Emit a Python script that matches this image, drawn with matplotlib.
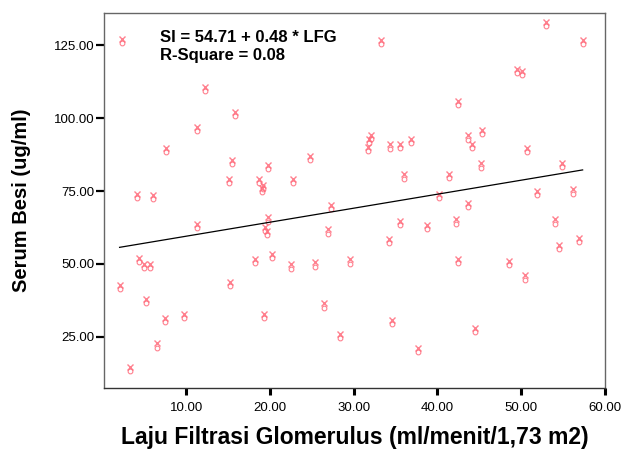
import matplotlib
matplotlib.use("Agg")
import matplotlib.pyplot as plt
import matplotlib.transforms as mtrans
import numpy as np

plt.rcParams['font.family'] = ['Liberation Sans', 'DejaVu Sans']

# Data
lfg = [2.30, 12.21, 15.87, 11.34, 7.61, 15.51, 19.76, 15.11, 18.68, 19.16,
       19.00, 4.16, 5.99, 33.29, 32.06, 31.78, 31.70, 34.36, 35.58, 36.82,
       24.83, 22.81, 36.02, 52.96, 57.33, 49.51, 50.11, 42.45, 45.35, 43.68,
       44.08, 50.70, 45.15, 54.87, 41.38, 40.19, 51.94, 56.14, 11.34, 19.80,
       19.44, 19.63, 4.36, 4.95, 5.75, 2.06, 5.19, 7.45, 9.75, 6.58,
       3.29, 18.21, 15.27, 19.24, 27.30, 26.90, 35.58, 38.72, 34.16, 20.31,
       22.57, 25.43, 29.60, 26.50, 34.56, 28.32, 37.65, 43.68, 42.26, 54.08,
       56.90, 54.48, 42.42, 48.60, 50.51, 44.51]
si = [126.4, 109.9, 101.4, 96.2, 89.0, 84.9, 83.1, 78.5, 78.5, 76.3,
      75.3, 73.3, 72.8, 126.1, 93.6, 92.1, 89.3, 90.2, 90.4, 92.2,
      86.3, 78.5, 79.9, 132.2, 126.1, 116.2, 115.5, 105.0, 95.2, 93.3,
      90.4, 89.0, 83.7, 84.0, 80.2, 73.3, 74.4, 74.8, 63.0, 65.2,
      61.9, 60.7, 51.3, 49.4, 49.4, 42.2, 37.3, 30.8, 32.0, 22.0,
      13.9, 51.1, 43.2, 32.0, 69.5, 61.1, 64.0, 62.7, 57.9, 52.8,
      49.1, 49.8, 50.8, 35.7, 30.2, 25.3, 20.4, 70.2, 64.5, 64.5,
      58.2, 55.8, 51.0, 50.2, 45.3, 27.2]

intercept = 54.71
slope = 0.48
r_square = 0.08

x_ticks = [10, 20, 30, 40, 50, 60]
x_tick_labels = ["10.00", "20.00", "30.00", "40.00", "50.00", "60.00"]
y_ticks = [25, 50, 75, 100, 125]
y_tick_labels = ["25.00", "50.00", "75.00", "100.00", "125.00"]

fig = plt.figure(figsize=(6.24, 4.49), dpi=100)
ax = fig.add_axes([104/624, 61/449, 501/624, 375/449])

x = np.array(lfg)
y = np.array(si)

col = '#ff6b7b'
up = ax.transData + mtrans.ScaledTranslation(0, 1.6/72, fig.dpi_scale_trans)
dn = ax.transData + mtrans.ScaledTranslation(0, -1.4/72, fig.dpi_scale_trans)
ax.plot(x, y, ls='none', marker='x', ms=3.8, mew=1.0, color=col, alpha=0.85, transform=up)
ax.plot(x, y, ls='none', marker='o', ms=3.4, mew=0.8, mfc='none', mec=col, alpha=0.85, transform=dn)

xl = np.array([x.min(), x.max()])
ax.plot(xl, intercept + slope * xl, color='black', lw=0.9)

ax.set_xlim(0.2, 60.0)
ax.set_ylim(7.5, 136.0)
ax.set_xticks(x_ticks)
ax.set_xticklabels(x_tick_labels)
ax.set_yticks(y_ticks)
ax.set_yticklabels(y_tick_labels)
ax.tick_params(axis='x', direction='out', length=5, width=2.2, pad=5, labelsize=9.5, colors='black')
ax.tick_params(axis='y', direction='out', length=6, width=1.6, pad=1, labelsize=9.5, colors='black')

for s in ax.spines.values():
    s.set_color('#666666')
    s.set_linewidth(1.0)
ax.spines['bottom'].set_color('#333333')

ax.set_xlabel("Laju Filtrasi Glomerulus (ml/menit/1,73 m2)", fontsize=16.5, fontweight='bold')
ax.xaxis.set_label_coords(0.5, -0.133)
ax.xaxis.label.set_va('center')
ax.set_ylabel("Serum Besi (ug/ml)", fontsize=14.5, fontweight='bold')
ax.yaxis.set_label_coords(-0.165, 0.5)
ax.yaxis.label.set_va('center')

ax.text(0.112, 0.923, f"SI = {intercept:.2f} + {slope:.2f} * LFG", transform=ax.transAxes,
        fontsize=12, fontweight='bold', va='baseline', ha='left')
ax.text(0.112, 0.875, f"R-Square = {r_square:.2f}", transform=ax.transAxes,
        fontsize=12, fontweight='bold', va='baseline', ha='left')

fig.savefig("out.png", dpi=100)
